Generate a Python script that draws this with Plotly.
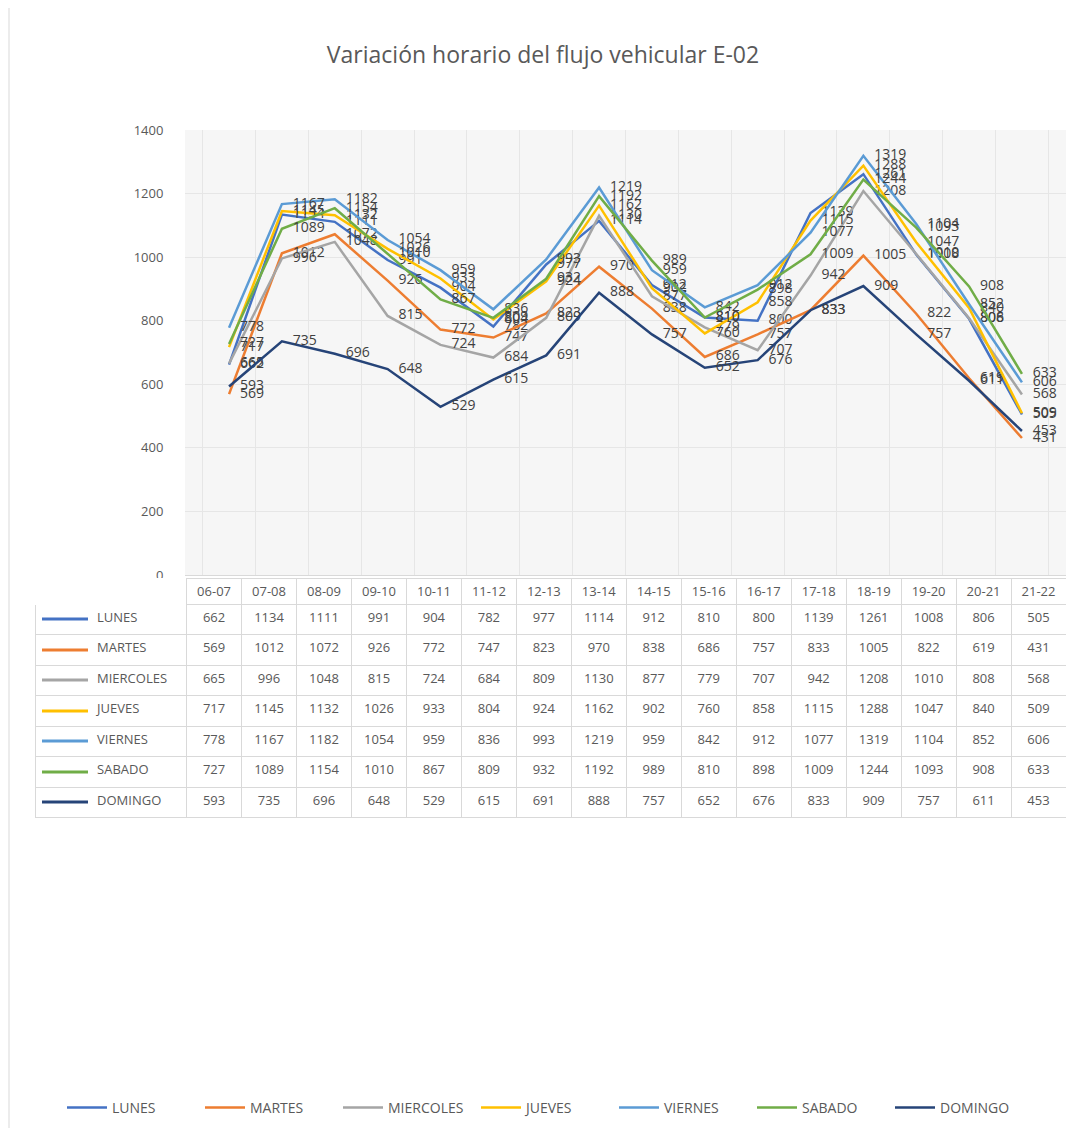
import plotly.graph_objects as go

categories = ["06-07","07-08","08-09","09-10","10-11","11-12","12-13","13-14",
              "14-15","15-16","16-17","17-18","18-19","19-20","20-21","21-22"]
series_names = ["LUNES","MARTES","MIERCOLES","JUEVES","VIERNES","SABADO","DOMINGO"]
lunes =     [662,1134,1111,991,904,782,977,1114,912,810,800,1139,1261,1008,806,505]
martes =    [569,1012,1072,926,772,747,823,970,838,686,757,833,1005,822,619,431]
miercoles = [665,996,1048,815,724,684,809,1130,877,779,707,942,1208,1010,808,568]
jueves =    [717,1145,1132,1026,933,804,924,1162,902,760,858,1115,1288,1047,840,509]
viernes =   [778,1167,1182,1054,959,836,993,1219,959,842,912,1077,1319,1104,852,606]
sabado =    [727,1089,1154,1010,867,809,932,1192,989,810,898,1009,1244,1093,908,633]
domingo =   [593,735,696,648,529,615,691,888,757,652,676,833,909,757,611,453]
y_ticks = [0,200,400,600,800,1000,1200,1400]

series_values = [lunes, martes, miercoles, jueves, viernes, sabado, domingo]
colors = ["#4472C4","#ED7D31","#A5A5A5","#FFC000","#5B9BD5","#70AD47","#264478"]

# page offset compensation (body margin)
OX, OY = 8, 8
W, H = 1074 - 2*OX, 1136 - 2*OY

def px(x):
    return min(1.0, max(0.0, (x - OX) / W))

def py(y):
    return min(1.0, max(0.0, 1 - (y - OY) / H))

FONT = "Open Sans"
TXT = "#595959"
NB = "\u00a0"

fig = go.Figure()
for name, vals, col in zip(series_names, series_values, colors):
    fig.add_trace(go.Scatter(
        x=categories, y=vals, name=name, mode="lines+text",
        line=dict(color=col, width=2.5),
        text=[NB*3 + str(v) for v in vals], textposition="middle right",
        textfont=dict(family=FONT, size=14, color="#404040"),
        cliponaxis=False,
    ))

# data table below the plot
first_col = [NB*16 + n for n in series_names]
cols = [first_col] + [[str(s[i]) for s in series_values] for i in range(len(categories))]
fig.add_trace(go.Table(
    domain=dict(x=[px(35), px(1066)], y=[py(818), py(578)]),
    columnwidth=[150] + [54.4]*16,
    header=dict(values=[""] + categories, height=26, align="center",
                fill_color="white",
                line=dict(color=["white"] + ["#d9d9d9"]*16, width=1),
                font=dict(family=FONT, size=13, color=TXT)),
    cells=dict(values=cols, height=30.5, align=["left"] + ["center"]*16,
               fill_color="white", line=dict(color="#d9d9d9", width=1),
               font=dict(family=FONT, size=13, color=TXT)),
))

row_y = [619, 650, 680, 711, 741, 772, 802]
shapes = []
for c, yy in zip(colors, row_y):
    shapes.append(dict(type="line", xref="paper", yref="paper",
                       x0=px(42), x1=px(88), y0=py(yy), y1=py(yy),
                       line=dict(color=c, width=3), layer="above"))
shapes.append(dict(type="line", xref="paper", yref="paper",
                   x0=px(9), x1=px(9), y0=0, y1=1,
                   line=dict(color="#d9d9d9", width=1)))

fig.update_layout(
    width=W, height=H,
    margin=dict(l=0, r=0, t=0, b=0, pad=0, autoexpand=False),
    paper_bgcolor="white",
    plot_bgcolor="#f6f6f6",
    title=dict(text="Variación horario del flujo vehicular E-02",
               x=px(543), xanchor="center", y=py(55), yanchor="middle",
               font=dict(family=FONT, size=23, color=TXT)),
    xaxis=dict(domain=[px(185), px(1066)], type="category", tickson="boundaries",
               showticklabels=False, showgrid=True, gridcolor="#e6e6e6",
               showline=True, linecolor="#d9d9d9", ticks=""),
    yaxis=dict(domain=[py(575), py(130)], range=[0, 1400], tickvals=y_ticks,
               showgrid=True, gridcolor="#e6e6e6", zeroline=False,
               tickfont=dict(family=FONT, size=13, color=TXT),
               ticks="outside", ticklen=18, tickcolor="white"),
    legend=dict(orientation="h", x=px(545), xanchor="center", y=py(1108), yanchor="middle",
                font=dict(family=FONT, size=14, color=TXT), itemwidth=40,
                entrywidth=83, entrywidthmode="pixels"),
    shapes=shapes,
)
fig.write_html("out.html")
